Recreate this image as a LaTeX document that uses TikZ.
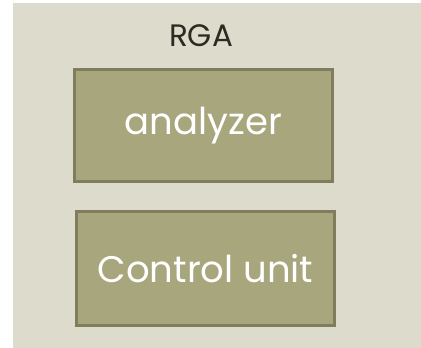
\documentclass[tikz,border=0pt]{standalone}
\usepackage{fontspec}
\setmainfont{Poppins}
\definecolor{panel}{HTML}{DDDBCC}
\definecolor{boxfill}{HTML}{A8A67D}
\definecolor{boxline}{HTML}{7F7D5E}
\definecolor{titletext}{HTML}{2B2B22}
\begin{document}
\begin{tikzpicture}[x=1pt,y=-1pt,
  unitbox/.style={draw=boxline,line width=2.5pt,fill=boxfill,text=white,font=\fontsize{37}{40}\selectfont,inner sep=0pt}]
\useasboundingbox (0,0) rectangle (421,348);
\fill[white] (0,0) rectangle (421,348);
\fill[panel] (13,3) rectangle (421,348);
\node[text=titletext,font=\fontsize{31}{34}\selectfont] (rga) at (201,36) {RGA};
\node[unitbox,minimum width=258pt,minimum height=112pt] (an) at (203.5,125.5) {analyzer};
\node[unitbox,minimum width=258pt,minimum height=114pt] (cu) at (205.5,268.5) {Control unit};
\end{tikzpicture}
\end{document}
